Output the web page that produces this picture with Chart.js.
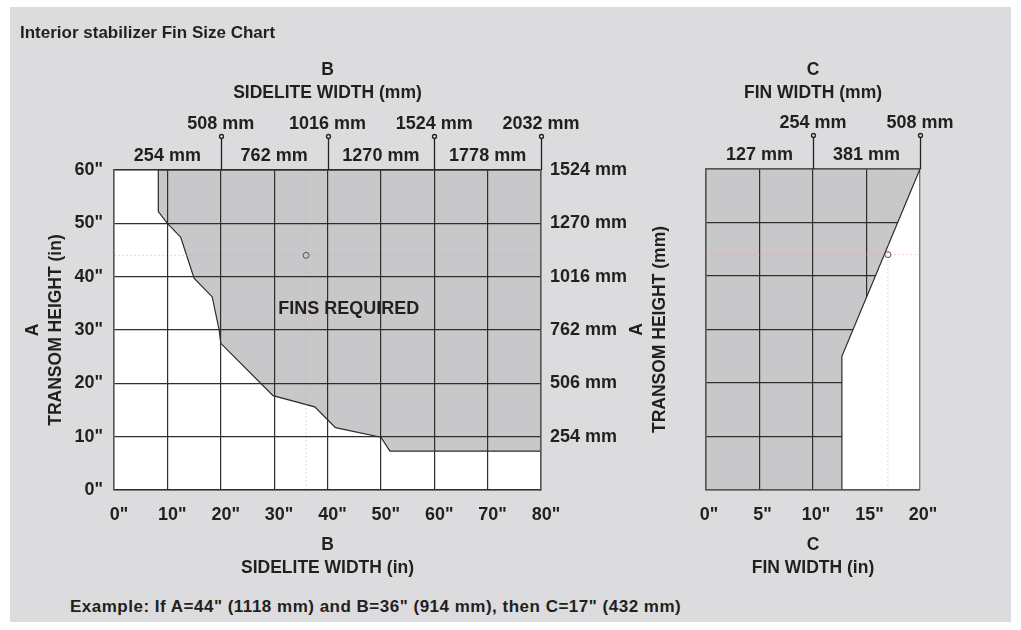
<!DOCTYPE html>
<html lang="en">
<head>
    <meta charset="UTF-8">
    <title>Interior stabilizer Fin Size Chart</title>
    <script src="https://cdn.jsdelivr.net/npm/chart.js"></script>
    <style>
        body {
            margin: 0;
            width: 1021px;
            height: 630px;
            position: relative;
            overflow: hidden;
            background: #ffffff;
            font-family: 'Liberation Sans', Arial, sans-serif;
            color: #231f20;
        }

        .panel {
            position: absolute;
            left: 10px;
            top: 7px;
            width: 1001px;
            height: 615px;
            background: #dcdcde;
        }

        .box {
            position: absolute;
            top: 0;
            height: 590px;
        }

        #sidelite-box { left: 0; width: 632px; }
        #fin-box { left: 600px; width: 421px; }

        .heading, .example {
            position: absolute;
            font-weight: bold;
            white-space: nowrap;
        }

        .heading { left: 20px; top: 23px; font-size: 17px; line-height: 20px; }
        .example { left: 70px; top: 597px; font-size: 17px; line-height: 20px; letter-spacing: 0.5px; }
    </style>
</head>
<body>
    <div class="panel"></div>
    <div class="box" id="sidelite-box"><canvas id="sidelite"></canvas></div>
    <div class="box" id="fin-box"><canvas id="fin"></canvas></div>
    <div class="heading">Interior stabilizer Fin Size Chart</div>
    <div class="example">Example: If A=44" (1118 mm) and B=36" (914 mm), then C=17" (432 mm)</div>

    <script>
        // axis ticks, inches and their mm equivalents
        const heightTicksIn = [0, 10, 20, 30, 40, 50, 60];
        const heightTicksMm = ['', '254 mm', '506 mm', '762 mm', '1016 mm', '1270 mm', '1524 mm'];
        const sideliteTicksIn = [0, 10, 20, 30, 40, 50, 60, 70, 80];
        const sideliteTicksMm = ['', '254 mm', '508 mm', '762 mm', '1016 mm', '1270 mm', '1524 mm', '1778 mm', '2032 mm'];
        const finTicksIn = [0, 5, 10, 15, 20];
        const finTicksMm = ['', '127 mm', '254 mm', '381 mm', '508 mm'];

        // outline of the "fins required" zone (sidelite width / transom height, in)
        const sideliteEdgeIn = [8.3, 8.3, 10, 12.5, 15, 18.4, 19.7, 20, 29.8, 37.6, 41.5, 50, 51.7, 80, 80, 8.3];
        const transomEdgeIn = [60, 52.2, 50, 47.4, 39.7, 36.2, 30, 27.5, 17.7, 15.6, 11.7, 9.9, 7.3, 7.3, 60, 60];

        // region beyond the maximum fin width (fin width / transom height, in)
        const finLimitIn = [12.7, 12.7, 20, 20, 12.7];
        const finTransomIn = [0, 25, 60, 0, 0];

        // worked example
        const exampleA = 44;
        const exampleB = 36;
        const exampleC = 17;

        const ink = '#231f20';
        const gridInk = '#2e2e2e';
        const edgeInk = '#555555';
        const guideInk = 'rgba(236, 150, 170, 0.45)';
        const family = "'Liberation Sans', Arial, sans-serif";
        const tickFont = { family, size: 18, weight: 'bold' };
        const titleFont = { family, size: 17.5, weight: 'bold', lineHeight: 1.32 };

        const zip = (xs, ys) => xs.map((x, i) => ({ x, y: ys[i] }));
        const useTicks = values => axis => { axis.ticks = values.map(v => ({ value: v })); };

        // mm labels on top: even ticks on the upper row, odd ticks just above the plot
        const mmLabel = labels => (v, i) => {
            const t = labels[i];
            if (!t) return '';
            return i % 2 === 0 ? [t, ''] : ['', t];
        };

        const paintArea = {
            id: 'paintArea',
            beforeDraw(chart, args, opts) {
                const { ctx, chartArea: a } = chart;
                ctx.save();
                ctx.fillStyle = opts.color;
                ctx.fillRect(a.left, a.top, a.right - a.left, a.bottom - a.top);
                ctx.restore();
            }
        };

        // pin-style tick marks for the upper row of mm labels
        const mmTickMarks = {
            id: 'mmTickMarks',
            afterDraw(chart, args, opts) {
                const { ctx, chartArea } = chart;
                const scale = chart.scales.x2;
                ctx.save();
                ctx.strokeStyle = ink;
                ctx.lineWidth = 1.3;
                ctx.fillStyle = '#dcdcde';
                opts.values.forEach(v => {
                    const px = Math.round(scale.getPixelForValue(v)) + 0.5;
                    ctx.beginPath();
                    ctx.moveTo(px, chartArea.top);
                    ctx.lineTo(px, chartArea.top - 31);
                    ctx.stroke();
                    ctx.beginPath();
                    ctx.arc(px, chartArea.top - 33.5, 2, 0, Math.PI * 2);
                    ctx.fill();
                    ctx.stroke();
                });
                ctx.restore();
            }
        };

        const areaLabel = {
            id: 'areaLabel',
            afterDraw(chart, args, opts) {
                if (!opts.text) return;
                const { ctx, scales } = chart;
                ctx.save();
                ctx.font = `bold 18px ${family}`;
                ctx.fillStyle = ink;
                ctx.textAlign = 'center';
                ctx.textBaseline = 'middle';
                ctx.fillText(opts.text, scales.x.getPixelForValue(opts.x), scales.y.getPixelForValue(opts.y));
                ctx.restore();
            }
        };

        function guide(points) {
            return {
                data: points,
                showLine: true,
                borderColor: guideInk,
                borderWidth: 1,
                borderDash: [2, 2],
                pointRadius: 0,
                fill: false,
                order: 2
            };
        }

        function marker(x, y) {
            return {
                data: [{ x, y }],
                pointRadius: 3,
                pointBorderWidth: 1,
                pointBorderColor: '#555',
                pointBackgroundColor: 'rgba(0,0,0,0)',
                order: 1
            };
        }

        const flatTicks = { autoSkip: false, maxRotation: 0, minRotation: 0 };

        function bottomAxis(max, ticks, offset, title, gridOnTop) {
            return {
                type: 'linear', position: 'bottom', min: 0, max,
                afterBuildTicks: useTicks(ticks),
                afterFit: s => { s.height = 100; },
                grid: { color: gridInk, lineWidth: 1.2, drawTicks: false, z: gridOnTop ? 1 : -1 },
                border: { color: edgeInk, width: 1.5, z: 1 },
                ticks: { ...flatTicks, font: tickFont, color: ink, padding: 14, labelOffset: offset, callback: v => v + '"' },
                title: { display: true, text: title, font: titleFont, color: ink, padding: { top: 0, bottom: 10.5 } }
            };
        }

        function topAxis(max, ticks, labels, height, title) {
            return {
                type: 'linear', position: 'top', min: 0, max,
                afterBuildTicks: useTicks(ticks),
                afterFit: s => { s.height = height; },
                grid: { drawOnChartArea: false, drawTicks: false },
                border: { color: edgeInk, width: 1.5, z: 1 },
                ticks: { ...flatTicks, font: { ...tickFont, lineHeight: 1.83 }, color: ink, padding: -3, callback: mmLabel(labels) },
                title: { display: true, text: title, font: titleFont, color: ink, padding: { top: 58.5, bottom: 0 } }
            };
        }

        function leftAxis(width, titlePad, title, showTicks, gridOnTop) {
            return {
                type: 'linear', position: 'left', min: 0, max: 60,
                afterBuildTicks: useTicks(heightTicksIn),
                afterFit: s => { s.width = width; },
                grid: { color: gridInk, lineWidth: 1.2, drawTicks: false, z: gridOnTop ? 1 : -1 },
                border: { color: edgeInk, width: 1.5, z: 1 },
                ticks: { display: showTicks, autoSkip: false, font: tickFont, color: ink, padding: 11, callback: v => v + '"' },
                title: { display: true, text: title, font: titleFont, color: ink, padding: { top: titlePad, bottom: 0 } }
            };
        }

        const common = {
            animation: false,
            responsive: true,
            maintainAspectRatio: false,
            events: [],
            layout: { padding: 0 }
        };

        new Chart(document.getElementById('sidelite'), {
            type: 'scatter',
            data: {
                datasets: [
                    marker(exampleB, exampleA),
                    guide([{ x: exampleB, y: 0 }, { x: exampleB, y: 60 }]),
                    guide([{ x: 0, y: exampleA }, { x: 80, y: exampleA }]),
                    {
                        data: zip(sideliteEdgeIn, transomEdgeIn),
                        showLine: true,
                        fill: 'shape',
                        backgroundColor: '#c8c8ca',
                        borderColor: '#2a2a2a',
                        borderWidth: 1.2,
                        pointRadius: 0,
                        tension: 0,
                        order: 3
                    }
                ]
            },
            options: {
                ...common,
                plugins: {
                    legend: { display: false },
                    tooltip: { enabled: false },
                    paintArea: { color: '#ffffff' },
                    mmTickMarks: { values: sideliteTicksIn.filter((v, i) => i > 0 && i % 2 === 0) },
                    areaLabel: { text: 'FINS REQUIRED', x: 44, y: 34 }
                },
                scales: {
                    x: bottomAxis(80, sideliteTicksIn, 5, ['B', 'SIDELITE WIDTH (in)'], true),
                    x2: topAxis(80, sideliteTicksIn, sideliteTicksMm, 170, ['B', 'SIDELITE WIDTH (mm)']),
                    y: leftAxis(114, 21.5, ['A', 'TRANSOM HEIGHT (in)'], true, true),
                    y2: {
                        type: 'linear', position: 'right', min: 0, max: 60,
                        afterBuildTicks: useTicks(heightTicksIn),
                        afterFit: s => { s.width = 91; },
                        grid: { drawOnChartArea: false, drawTicks: false },
                        border: { color: edgeInk, width: 1.5, z: 1 },
                        ticks: { autoSkip: false, font: tickFont, color: ink, padding: 9, callback: (v, i) => heightTicksMm[i] }
                    }
                }
            },
            plugins: [paintArea, mmTickMarks, areaLabel]
        });

        new Chart(document.getElementById('fin'), {
            type: 'scatter',
            data: {
                datasets: [
                    marker(exampleC, exampleA),
                    guide([{ x: exampleC, y: 0 }, { x: exampleC, y: 60 }]),
                    guide([{ x: 0, y: exampleA }, { x: 20, y: exampleA }]),
                    {
                        data: zip(finLimitIn, finTransomIn),
                        showLine: true,
                        fill: 'shape',
                        backgroundColor: '#ffffff',
                        borderColor: '#2a2a2a',
                        borderWidth: 1.2,
                        pointRadius: 0,
                        tension: 0,
                        order: 3
                    }
                ]
            },
            options: {
                ...common,
                layout: { padding: { left: 0, top: 0, bottom: 0, right: 101 } },
                plugins: {
                    legend: { display: false },
                    tooltip: { enabled: false },
                    paintArea: { color: '#c8c8ca' },
                    mmTickMarks: { values: finTicksIn.filter((v, i) => i > 0 && i % 2 === 0) },
                    areaLabel: {}
                },
                scales: {
                    x: bottomAxis(20, finTicksIn, 3, ['C', 'FIN WIDTH (in)'], false),
                    x2: topAxis(20, finTicksIn, finTicksMm, 169, ['C', 'FIN WIDTH (mm)']),
                    y: leftAxis(106, 25.5, ['A', 'TRANSOM HEIGHT (mm)'], false, false)
                }
            },
            plugins: [paintArea, mmTickMarks, areaLabel]
        });
    </script>
</body>
</html>
